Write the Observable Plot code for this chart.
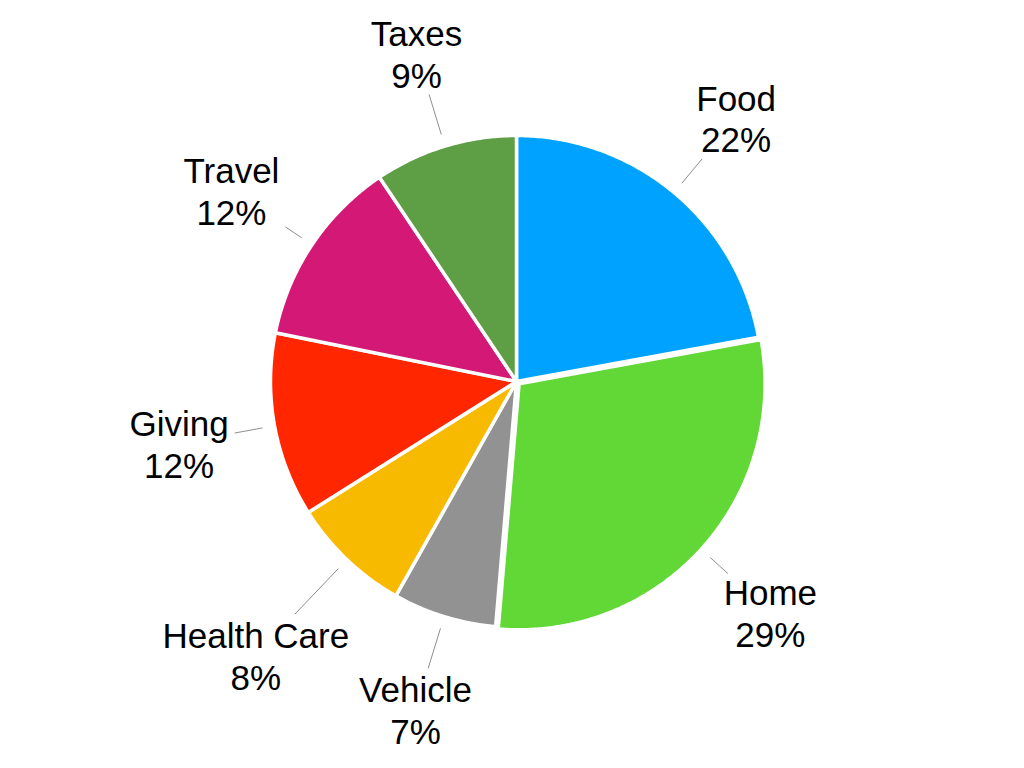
<!DOCTYPE html>
<html>
<head>
<meta charset="utf-8">
<script src="https://cdn.jsdelivr.net/npm/d3@7"></script>
<script src="https://cdn.jsdelivr.net/npm/@observablehq/plot@0.6"></script>
<style>
  html, body { margin: 0; padding: 0; background: #fff; }
  #chart svg { display: block; }
</style>
</head>
<body>
<div id="chart"></div>
<script>
// ---- data ----
const categories = ["Food", "Home", "Vehicle", "Health Care", "Giving", "Travel", "Taxes"];
const values = [22.1, 29.2, 6.8, 7.9, 12.1, 12.4, 9.4];
const colors = ["#00A2FF", "#61D836", "#929292", "#F8BA00", "#FF2600", "#D41876", "#5E9E44"];
const explodedCategories = ["Home"];

// ---- layout ----
const W = 1024, H = 768;
const R = 246;            // pie radius in px
const cx = 516, cy = 381; // pie centre in px
const explodePx = 3.5;
const labelRadius = 343;
const labelRadiusOverride = {"Health Care": 378};
const fontSize = 35;
const fontFamily = "'Liberation Sans', Arial, Helvetica, sans-serif";

const total = d3.sum(values);
const pie = d3.pie().sort(null).value(d => d.value);
const rows = categories.map((c, i) => ({category: c, value: values[i], color: colors[i]}));
const arcs = pie(rows);

const ctx = document.createElement("canvas").getContext("2d");
ctx.font = `${fontSize}px ${fontFamily}`;

const polyPoints = [];
const leaders = [];
const labels = [];
for (const a of arcs) {
  const d = a.data;
  const mid = (a.startAngle + a.endAngle) / 2;
  const off = explodedCategories.includes(d.category) ? explodePx : 0;
  const ox = off * Math.sin(mid), oy = off * Math.cos(mid);
  const n = Math.max(2, Math.ceil((a.endAngle - a.startAngle) / (Math.PI / 360)));
  polyPoints.push({category: d.category, x: ox, y: oy});
  for (let k = 0; k <= n; k++) {
    const t = a.startAngle + (a.endAngle - a.startAngle) * k / n;
    polyPoints.push({category: d.category, x: ox + R * Math.sin(t), y: oy + R * Math.cos(t)});
  }
  polyPoints.push({category: d.category, x: ox, y: oy});

  const pct = Math.round(d.value / total * 100);
  const text = `${d.category}\n${pct}%`;
  const lr = labelRadiusOverride[d.category] ?? labelRadius;
  const sx = Math.sin(mid), sy = Math.cos(mid);
  const tx = lr * sx, ty = lr * sy;
  labels.push({text, x: tx, y: ty});

  // leader end: where the ray hits the text box (with padding)
  const w = Math.max(ctx.measureText(d.category).width, ctx.measureText(pct + "%").width);
  const hw = w / 2 + 6, hh = 35 + 6;
  const tEnter = [];
  if (Math.abs(sx) > 1e-6) {
    const t1 = (tx - hw) / sx, t2 = (tx + hw) / sx;
    tEnter.push(Math.min(t1, t2));
  }
  if (Math.abs(sy) > 1e-6) {
    const t1 = (ty - hh) / sy, t2 = (ty + hh) / sy;
    tEnter.push(Math.min(t1, t2));
  }
  const rEnd = Math.max(...tEnter);
  const rStart = R * 1.05;
  leaders.push({
    x1: ox + rStart * sx, y1: oy + rStart * sy,
    x2: ox + rEnd * sx, y2: oy + rEnd * sy
  });
}

const chart = Plot.plot({
  width: W,
  height: H,
  margin: 0,
  x: {domain: [-cx, W - cx], range: [0, W], axis: null},
  y: {domain: [-(H - cy), cy], range: [H, 0], axis: null},
  color: {domain: categories, range: colors},
  style: {fontFamily, background: "#fff"},
  marks: [
    Plot.line(polyPoints, {
      x: "x", y: "y", z: "category",
      fill: "category", stroke: "#fff", strokeWidth: 3.5,
      strokeLinejoin: "round", curve: "linear"
    }),
    Plot.link(leaders, {x1: "x1", y1: "y1", x2: "x2", y2: "y2", stroke: "#8e8e8e", strokeWidth: 1}),
    Plot.text(labels, {
      x: "x", y: "y", text: "text",
      fontSize, lineHeight: 1.2, fill: "#000",
      textAnchor: "middle", lineAnchor: "middle"
    })
  ]
});
document.getElementById("chart").appendChild(chart);
</script>
</body>
</html>
